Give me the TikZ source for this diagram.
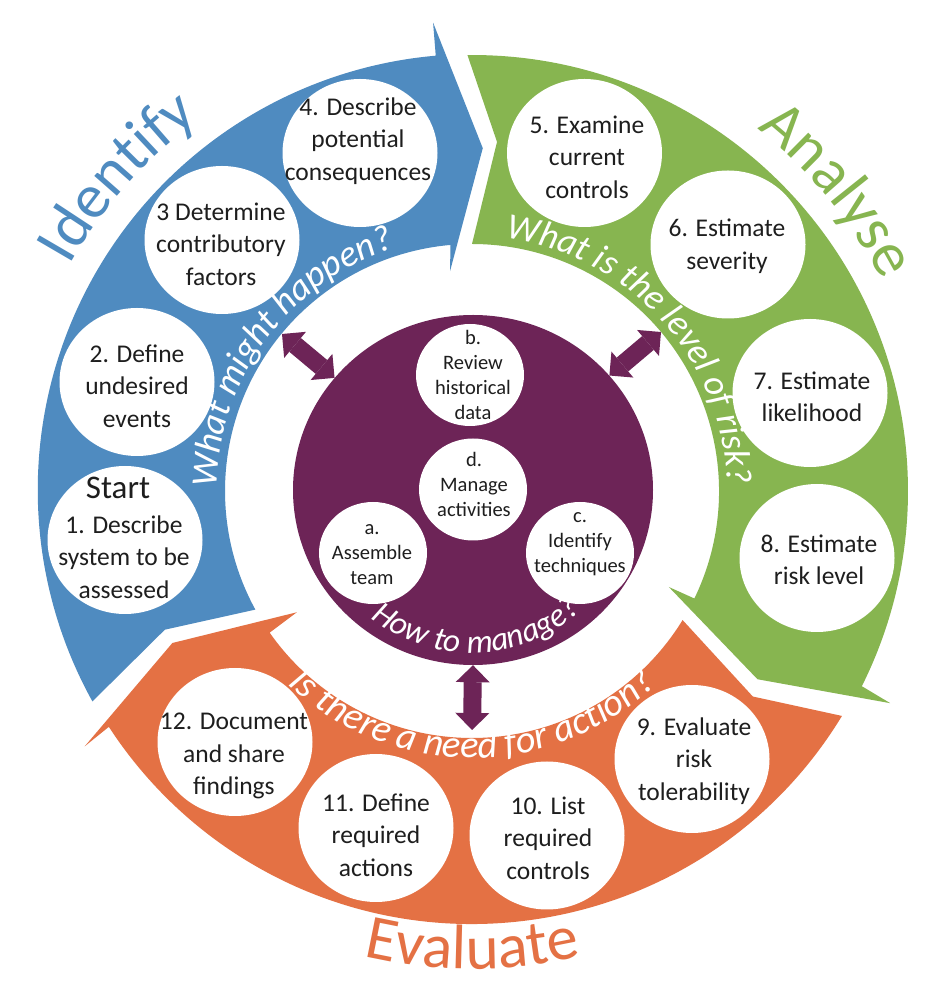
\documentclass[tikz,border=0pt]{standalone}
\usepackage{fontspec}
\setmainfont{Carlito}
\usetikzlibrary{shapes.geometric,arrows.meta,decorations.text}
\definecolor{cblue}{HTML}{4F8BC0}
\definecolor{cgreen}{HTML}{87B550}
\definecolor{corange}{HTML}{E47144}
\definecolor{cpurple}{HTML}{6D2457}
\definecolor{txt}{HTML}{1E1E1E}
\begin{document}
\begin{tikzpicture}[x=1pt,y=1pt,
  bigc/.style={ellipse,fill=white,minimum width=155pt,minimum height=148pt,inner sep=0pt},
  smallc/.style={ellipse,fill=white,minimum width=108pt,minimum height=102pt,inner sep=0pt},
  bigt/.style={align=center,text=txt,font=\fontsize{25.5}{32.5}\selectfont,inner sep=0pt},
  smallt/.style={align=center,text=txt,font=\fontsize{20.5}{25}\selectfont,inner sep=0pt},
  dbl/.style={draw=cpurple,line width=18pt,{Triangle[width=34pt,length=17pt,line width=0pt]}-{Triangle[width=34pt,length=17pt,line width=0pt]}},
  ringtext/.style={decorate,decoration={text along path,text align=center,text color=#1}},
]
\useasboundingbox (0,0) rectangle (946,986);
\fill[white] (0,0) rectangle (946,986);

% ---- ring arrows, centred on the ring centre ----
\begin{scope}[shift={(472,495)}]
  \fill[cblue] (209:434) arc[start angle=209,end angle=95,radius=436pt]
    -- (94.75:470) -- (88.2:343) -- (95.7:221) -- (95:247)
    arc[start angle=95,end angle=208.7,radius=247pt] -- (204.3:337) -- cycle;
  \fill[cgreen] (90.6:436) arc[start angle=90.6,end angle=-26.6,radius=436pt]
    -- (-26.9:469) -- (-33.4:342) -- (-26:219) -- (-25.8:247)
    arc[start angle=-25.8,end angle=90,radius=247pt] -- (85.9:350) -- cycle;
  \fill[corange] (-31.3:433) arc[start angle=-31.3,end angle=-147,radius=433pt]
    -- (-146.6:464) -- (-153.1:336) -- (-145.3:213) -- (-145:247)
    arc[start angle=-145,end angle=-31.5,radius=247pt] -- (-36.2:348) -- cycle;

  % phase labels outside the ring
  \path[ringtext=cblue,decoration={text={|\fontsize{63}{63}\selectfont|Identify}}]
    (170:461) arc[start angle=170,end angle=107,radius=461pt];
  \path[ringtext=cgreen,decoration={text={|\fontsize{63}{63}\selectfont|Analyse}}]
    (72:461) arc[start angle=72,end angle=7,radius=461pt];
  \path[ringtext=corange,decoration={text={|\fontsize{63}{63}\selectfont|Evaluate}}]
    (-120:478) arc[start angle=-120,end angle=-60,radius=478pt];
\end{scope}

% ---- central hub ----
\node[ellipse,fill=cpurple,minimum width=360pt,minimum height=350pt,inner sep=0pt] (hub) at (473,496) {};

% ---- step circles ----
\node[bigc] (c1) at (125,446) {};
\node[bigc] (c2) at (137,604) {};
\node[bigc] (c3) at (222,746) {};
\node[bigc] (c4) at (360,833) {};
\node[bigc] (c5) at (584.5,833) {};
\node[bigc] (c6) at (728,741.5) {};
\node[bigc] (c7) at (810,593) {};
\node[bigc] (c8) at (817,428) {};
\node[bigc] (c9) at (692,227) {};
\node[bigc] (c10) at (547,150.5) {};
\node[bigc] (c11) at (376,158) {};
\node[bigc] (c12) at (235,244) {};
\node[smallc] (ca) at (373,433) {};
\node[smallc] (cb) at (470,611) {};
\node[smallc] (cc) at (580,433) {};
\node[smallc] (cd) at (473,496.5) {};

\node[inner sep=0pt,text=txt,font=\fontsize{33}{33}\selectfont] (start) at (118,498) {Start};
\node[bigt] (t1) at (124,429) {1. Describe\\system to be\\assessed};
\node[bigt] (t2) at (137,600) {2. Define\\undesired\\events};
\node[bigt] (t3) at (221,742) {3 Determine\\contributory\\factors};
\node[bigt] (t4) at (358,845) {4. Describe\\potential\\consequences};
\node[bigt] (t5) at (587,829) {5. Examine\\current\\controls};
\node[bigt] (t6) at (727,740) {6. Estimate\\severity};
\node[bigt] (t7) at (812,589) {7. Estimate\\likelihood};
\node[bigt] (t8) at (819,426) {8. Estimate\\risk level};
\node[bigt] (t9) at (694,225) {9. Evaluate\\risk\\tolerability};
\node[bigt] (t10) at (548,148) {10. List\\required\\controls};
\node[bigt] (t11) at (376,151) {11. Define\\required\\actions};
\node[bigt] (t12) at (234,230) {12. Document\\and share\\findings};
\node[smallt] (ta) at (372,431) {a.\\Assemble\\team};
\node[smallt] (tb) at (473,611) {b.\\Review\\historical\\data};
\node[smallt] (tc) at (580,442) {c.\\Identify\\techniques};
\node[smallt] (td) at (474,502) {d.\\Manage\\activities};

% ---- white questions along the ring ----
\begin{scope}[shift={(472,495)}]
  \path[ringtext=white,decoration={text={|\fontsize{37}{37}\selectfont\itshape|What might happen?}}]
    (200:255) arc[start angle=200,end angle=87,radius=255pt];
  \path[ringtext=white,decoration={text={|\fontsize{36.5}{36.5}\selectfont\itshape|What is the level of risk?}}]
    (101:255) arc[start angle=101,end angle=-17,radius=255pt];
  \path[ringtext=white,decoration={text={|\fontsize{38.5}{38.5}\selectfont\itshape|Is there a need for action?}}]
    (200:267) arc[start angle=200,end angle=340,radius=267pt];
  \path[ringtext=white,decoration={text={|\fontsize{33}{33}\selectfont\itshape|How to manage?}}]
    (212:162) arc[start angle=212,end angle=332,radius=162pt];
\end{scope}

% ---- double arrows ----
\coordinate (ulend) at (282,652);
\coordinate (urend) at (661,654);
\coordinate (bend) at (472,256);
\draw[dbl] (hub.141) -- (ulend);
\draw[dbl] (hub.40) -- (urend);
\draw[dbl] (hub.south) -- (bend);
\end{tikzpicture}
\end{document}
